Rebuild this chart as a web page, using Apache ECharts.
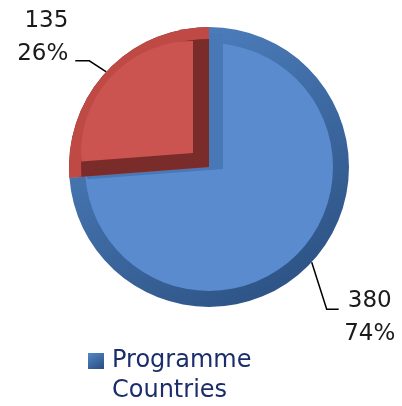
<!DOCTYPE html>
<html>
<head>
<meta charset="utf-8">
<script src="https://cdn.jsdelivr.net/npm/echarts@6/dist/echarts.min.js"></script>
<style>
  html, body { margin: 0; padding: 0; background: #fff; }
  #chart { width: 402px; height: 406px; }
</style>
</head>
<body>
<div id="chart"></div>
<script>
const categories = ['Programme Countries', 'Partner Countries'];
const values = [380, 135];
const legendItems = ['Programme Countries'];

const font = 'DejaVu Sans';
const clear = 'rgba(0,0,0,0)';

// one pie layer of the bevelled look, same data, different colours / centre
const layer = (center, radius, colors) => ({
  type: 'pie',
  center,
  radius,
  startAngle: 90,
  clockwise: true,
  silent: true,
  animation: false,
  label: { show: false },
  labelLine: { show: false },
  emphasis: { disabled: true },
  itemStyle: { borderWidth: 0 },
  data: categories.map((name, i) => ({ name, value: values[i], itemStyle: { color: colors[i] } }))
});

const ringBlue = {
  type: 'linear', x: 0.2, y: 0, x2: 0.8, y2: 1,
  colorStops: [{ offset: 0, color: '#5083C3' }, { offset: 1, color: '#2C5182' }]
};

const base = layer([209, 167], 140, [ringBlue, '#7A2C2A']);
base.percentPrecision = 0;
base.avoidLabelOverlap = false;
base.label = {
  show: true,
  formatter: '{c}\n{d}%',
  fontFamily: font,
  fontSize: 23,
  lineHeight: 33,
  color: '#1a1a1a',
  overflow: 'none',
  width: 200
};
base.labelLine = { show: true, lineStyle: { color: '#000', width: 1.5 } };
base.labelLayout = (p) => {
  const pts = p.labelLinePoints;
  if (!pts) return {};
  const [x0, y0] = pts[0];
  if (p.dataIndex === 0) {
    const x1 = x0 + 15, y1 = y0 + 47, x2 = x1 + 12;
    return { x: x2 + 31, y: y1 - 25, align: 'center', verticalAlign: 'top',
      labelLinePoints: [[x0, y0], [x1, y1], [x2, y1]] };
  }
  const x1 = x0 - 17, y1 = y0 - 11, x2 = x1 - 14;
  return { x: x2 - 7, y: y1 + 10, align: 'right', verticalAlign: 'bottom',
    labelLinePoints: [[x0, y0], [x1, y1], [x2, y1]] };
};

const chart = echarts.init(document.getElementById('chart'));
chart.setOption({
  animation: false,
  legend: {
    data: legendItems,
    left: 88,
    top: 316,
    padding: 0,
    icon: 'rect',
    itemWidth: 16,
    itemHeight: 16,
    selectedMode: false,
    // blank first line keeps the icon level with the first text line
    formatter: (name) => ' \n' + name.replace(' ', '\n'),
    textStyle: {
      fontFamily: font,
      fontSize: 24,
      lineHeight: 30,
      color: '#1B2E6B',
      padding: [0, 0, 0, 3]
    }
  },
  series: [
    base,
    layer([209, 167], 124, ['#5A8BCF', clear]),
    layer([223, 169], 136, [clear, '#4878B5']),
    layer([209, 167], 140, [clear, '#BE4945']),
    layer([209, 167], 128, [clear, '#7A2C2A']),
    layer([193, 153], 112, [clear, '#CC5450'])
  ]
});
</script>
</body>
</html>
